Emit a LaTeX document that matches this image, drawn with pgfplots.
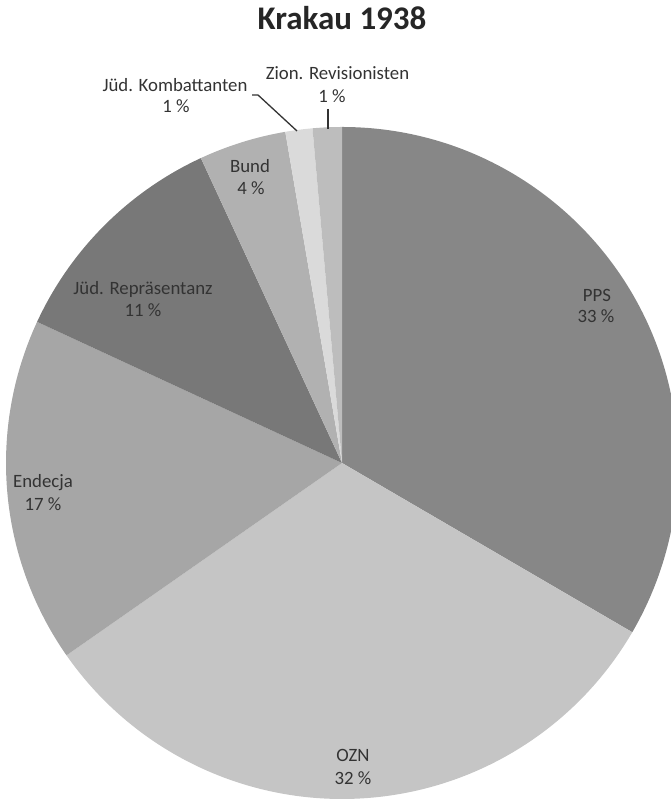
\documentclass[border=0pt]{standalone}
\usepackage{pgfplots}
\pgfplotsset{compat=1.18}
\usepackage{fontspec}
\setmainfont{Carlito}
\definecolor{cPPS}{HTML}{878787}
\definecolor{cOZN}{HTML}{C5C5C5}
\definecolor{cEnd}{HTML}{A6A6A6}
\definecolor{cJR}{HTML}{787878}
\definecolor{cBund}{HTML}{B1B1B1}
\definecolor{cKomb}{HTML}{DADADA}
\definecolor{cZion}{HTML}{BDBDBD}
\definecolor{txt}{HTML}{333333}
% slice: start percent, share percent, colour
\newcommand{\slice}[3]{%
  \fill[#3] (axis cs:0,0) -- (axis cs:{336*cos(90-3.6*(#1))},{336*sin(90-3.6*(#1))})
    arc[start angle={90-3.6*(#1)}, end angle={90-3.6*((#1)+(#2))}, radius=336pt] -- cycle;}
\newcommand{\lab}[3]{\node[anchor=base, text=txt, font=\fontsize{18.8}{22}\selectfont, inner sep=0pt] at (axis cs:#1,#2) {#3};}
\begin{document}
\begin{tikzpicture}
\path[use as bounding box] (0,0) rectangle (670pt,799pt);
\begin{axis}[
  x=1pt, y=1pt, hide axis, clip=false,
  xmin=-342, xmax=328, ymin=-336, ymax=463,
  anchor=origin, at={(342pt,336pt)},
]
% data: cumulative start and share (percent)
\slice{0}{33.4}{cPPS}
\slice{33.4}{31.9}{cOZN}
\slice{65.3}{16.6}{cEnd}
\slice{81.9}{11.2}{cJR}
\slice{93.1}{4.2}{cBund}
\slice{97.3}{1.3}{cKomb}
\slice{98.6}{1.4}{cZion}
% leader lines
\draw[txt, line width=1.3pt] (axis cs:-90,368) -- (axis cs:-84,368) -- (axis cs:-45,332);
\draw[txt, line width=1.3pt] (axis cs:-14,354) -- (axis cs:-14,334);
% labels
\lab{255}{161}{PPS}
\lab{254}{140}{33 \%}
\lab{11}{-299}{OZN}
\lab{11}{-322}{32 \%}
\lab{-299}{-25}{Endecja}
\lab{-299}{-48}{17 \%}
\lab{-199}{168}{Jüd. Repräsentanz}
\lab{-199}{146}{11 \%}
\lab{-92}{290}{Bund}
\lab{-91}{268}{4 \%}
\lab{-167}{371}{Jüd. Kombattanten}
\lab{-166}{350}{1 \%}
\lab{-4.5}{383}{Zion. Revisionisten}
\lab{-10}{360}{1 \%}
\node[anchor=base, text=black!85, font=\fontsize{33}{40}\selectfont\bfseries, inner sep=0pt] at (axis cs:0,433) {Krakau 1938};
\end{axis}
\end{tikzpicture}
\end{document}
